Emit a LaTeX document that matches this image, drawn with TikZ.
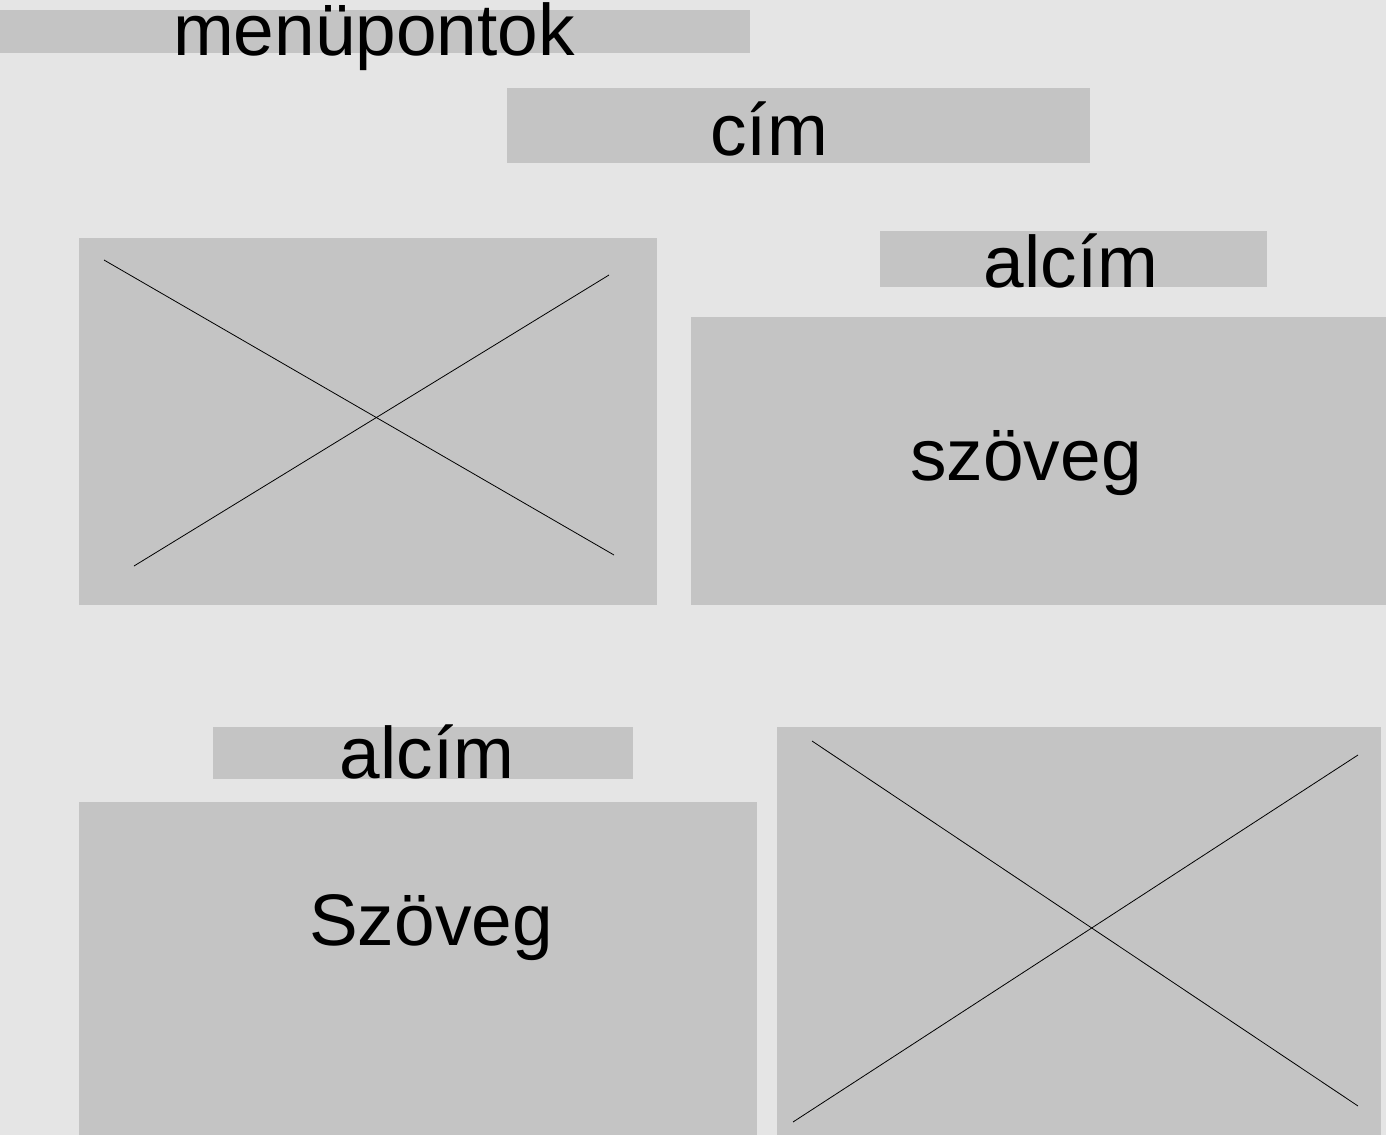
\documentclass[tikz,border=0pt]{standalone}
\usepackage{fontspec}
\setmainfont{Liberation Sans}
\definecolor{bg}{HTML}{E5E5E5}
\definecolor{boxc}{HTML}{C4C4C4}
\begin{document}
\begin{tikzpicture}[x=0.5pt,y=-0.5pt,
  box/.style={fill=boxc},
  lbl/.style={anchor=base,inner sep=0pt,font=\fontsize{36.5}{40}\selectfont},
  xline/.style={draw=black,line width=0.4pt}]
\fill[bg] (0,0) rectangle (1386,1135);
\useasboundingbox (0,0) rectangle (1386,1135);
% boxes
\fill[box] (0,10) rectangle (750,53);
\fill[box] (507,88) rectangle (1090,163);
\fill[box] (79,238) rectangle (657,605);
\fill[box] (880,231) rectangle (1267,287);
\fill[box] (691,317) rectangle (1386,605);
\fill[box] (213,727) rectangle (633,779);
\fill[box] (79,802) rectangle (757,1135);
\fill[box] (777,727) rectangle (1381,1135);
% texts
\node[lbl] (menu) at (374,55) {menüpontok};
\node[lbl] (cim) at (769,155) {cím};
\node[lbl] (alcim1) at (1071,287) {alcím};
\node[lbl] (szoveg1) at (1026,480) {szöveg};
\node[lbl] (alcim2) at (427,778) {alcím};
\node[lbl] (szoveg2) at (431,945) {Szöveg};
% crosses
\coordinate (a1) at (104,260); \coordinate (a2) at (614,555);
\coordinate (a3) at (134,566); \coordinate (a4) at (609,275);
\coordinate (b1) at (812,741); \coordinate (b2) at (1358,1106);
\coordinate (b3) at (793,1122); \coordinate (b4) at (1358,755);
\draw[xline] (a1) -- (a2);
\draw[xline] (a3) -- (a4);
\draw[xline] (b1) -- (b2);
\draw[xline] (b3) -- (b4);
\end{tikzpicture}
\end{document}
